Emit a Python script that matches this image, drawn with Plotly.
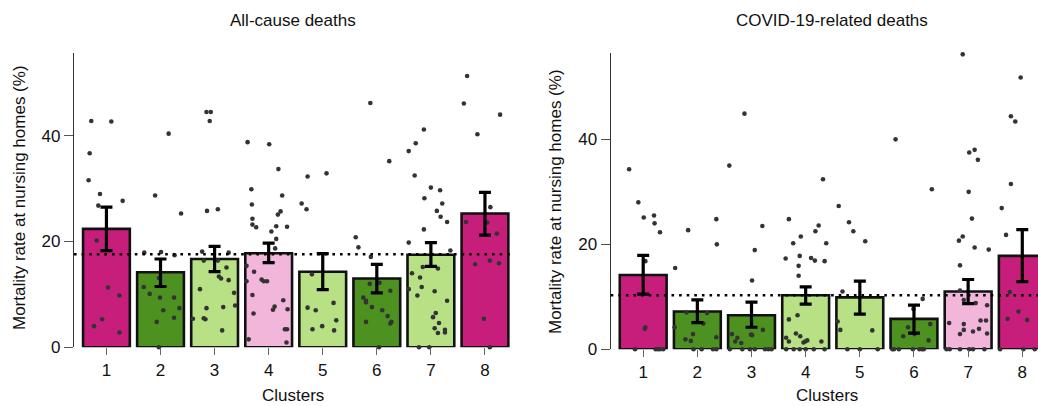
import plotly.graph_objects as go

# ---------------- data ----------------
clusters = [1, 2, 3, 4, 5, 6, 7, 8]
tick_vals_y = [0, 20, 40]

# All-cause deaths
ac_rate = [22.4, 14.2, 16.7, 17.8, 14.3, 13.0, 17.5, 25.3]
ac_err_hi = [26.5, 16.7, 19.1, 19.7, 17.7, 15.7, 19.8, 29.3]
ac_err_lo = [18.3, 11.5, 14.3, 16.0, 10.9, 10.3, 15.3, 21.2]
ac_overall = 17.6
ac_colors = ["#C71E7B", "#4D9221", "#B8E186", "#F1B6DA", "#B8E186", "#4D9221", "#B8E186", "#C71E7B"]

ac_pts_1 = [42.8, 42.7, 36.7, 31.6, 29.0, 26.8, 27.7, 20.2, 11.3, 9.8, 5.3, 4.0, 2.8]
ac_jit_1 = [-0.28, 0.09, -0.31, -0.33, -0.12, -0.15, 0.30, -0.18, 0.03, 0.24, -0.08, -0.23, 0.24]
ac_pts_2 = [40.4, 28.7, 25.3, 17.9, 18.0, 17.4, 11.4, 10.1, 13.1, 9.4, 9.4, 7.0, 7.4, 5.6, 4.8, 0.0]
ac_jit_2 = [0.15, -0.10, 0.38, -0.30, 0.01, 0.26, -0.31, -0.20, -0.03, -0.01, 0.25, 0.05, 0.35, 0.25, -0.07, -0.03]
ac_pts_3 = [44.5, 44.5, 42.8, 25.8, 26.1, 18.1, 17.9, 16.4, 16.4, 15.1, 13.4, 13.0, 12.7, 11.0, 10.3, 7.9, 7.6, 7.4, 5.4, 5.5, 5.3, 3.2]
ac_jit_3 = [-0.15, -0.07, -0.09, -0.14, 0.06, -0.23, 0.26, 0.06, -0.20, 0.22, 0.08, 0.12, 0.26, -0.27, 0.36, 0.38, 0.16, -0.15, -0.40, -0.20, -0.17, 0.14]
ac_pts_4 = [38.8, 15.4, 12.5, 1.5, 29.9, 27.0, 24.3, 23.2, 22.7, 38.4, 33.7, 28.7, 25.7, 25.1, 22.9, 22.8, 21.9, 20.5, 18.7,
            14.3, 12.8, 12.5, 12.5, 9.9, 8.9, 7.7, 7.1, 7.2, 6.4, 3.4, 3.4, 0.9]
ac_jit_4 = [-0.39, -0.41, -0.41, -0.37, -0.32, -0.31, -0.30, -0.30, -0.23, 0.01, 0.18, 0.25, 0.22, 0.17, 0.14, 0.34, 0.05, 0.14, 0.12,
            -0.27, -0.13, -0.09, -0.03, -0.30, 0.27, 0.11, 0.08, 0.35, -0.28, 0.30, 0.34, 0.33]
ac_pts_5 = [32.3, 32.9, 27.2, 26.1, 13.8, 7.5, 7.0, 8.4, 5.1, 4.0, 3.4, 3.2]
ac_jit_5 = [-0.28, 0.07, -0.39, -0.30, -0.20, -0.28, -0.13, 0.20, 0.25, -0.01, -0.19, 0.21]
ac_pts_6 = [46.2, 35.2, 20.8, 18.9, 17.1, 12.0, 12.2, 10.7, 9.4, 8.8, 8.5, 7.6, 7.0, 5.9, 4.8, 4.5, 4.8, 0.0]
ac_jit_6 = [-0.12, 0.23, -0.39, -0.34, -0.11, -0.13, 0.05, 0.25, -0.25, -0.20, -0.20, -0.09, 0.10, 0.20, 0.27, 0.25, -0.20, 0.04]
ac_pts_7 = [55.7, 41.2, 38.6, 37.1, 32.5, 30.2, 29.7, 28.2, 27.2, 25.8, 24.7, 23.7, 22.3, 19.8, 18.3, 15.2, 14.9, 14.0, 13.2,
            11.4, 11.0, 10.6, 9.8, 8.8, 6.5, 5.7, 4.6, 3.6, 3.3, 2.8, 2.7, 0.0, 0.0]
ac_jit_7 = [-0.34, -0.13, -0.28, -0.41, -0.30, 0.00, 0.17, -0.12, 0.21, 0.11, 0.18, 0.30, -0.13, -0.41, 0.36, -0.15, 0.13, -0.35, -0.20,
            -0.17, -0.41, 0.07, -0.25, 0.30, 0.09, 0.04, 0.15, 0.07, 0.26, 0.26, 0.13, -0.22, -0.03]
ac_pts_8 = [51.3, 46.1, 44.0, 40.3, 26.5, 23.7, 23.6, 21.5, 15.7, 16.4, 15.9, 5.4, 0.0]
ac_jit_8 = [-0.33, -0.39, 0.28, -0.14, 0.10, -0.35, 0.04, 0.22, -0.18, 0.09, 0.26, -0.02, 0.09]

# COVID-19-related deaths
cv_rate = [14.15, 7.2, 6.5, 10.3, 9.9, 5.8, 11.0, 17.8]
cv_err_hi = [17.9, 9.4, 9.0, 11.9, 13.0, 8.4, 13.3, 22.8]
cv_err_lo = [10.5, 5.1, 4.2, 8.6, 6.7, 3.1, 8.7, 12.9]
cv_overall = 10.3
cv_colors = ["#C71E7B", "#4D9221", "#4D9221", "#B8E186", "#B8E186", "#4D9221", "#F1B6DA", "#C71E7B"]

cv_pts_1 = [34.3, 28.0, 25.1, 25.5, 24.0, 22.3, 16.8, 4.2, 3.9, 0.0, 0.0, 0.0, 0.0, 0.0]
cv_jit_1 = [-0.26, -0.09, 0.01, 0.20, 0.21, 0.31, 0.04, 0.04, 0.03, -0.15, 0.23, 0.27, 0.31, 0.37]
cv_pts_2 = [15.5, 22.7, 24.8, 20.0, 7.0, 6.9, 4.9, 4.2, 2.9, 1.9, 1.6, 2.3, 0.0, 0.0, 0.0, 0.0]
cv_jit_2 = [-0.41, -0.17, 0.35, 0.36, -0.20, 0.18, 0.11, -0.42, -0.08, -0.22, -0.12, 0.35, -0.07, 0.08, 0.29, 0.35]
cv_pts_3 = [44.9, 35.0, 23.5, 18.9, 13.1, 2.9, 2.2, 1.5, 1.2, 2.8, 2.7, 3.7, 0.0, 0.0, 0.0, 0.0, 0.0, 0.0, 0.0]
cv_jit_3 = [-0.13, -0.41, 0.20, 0.06, 0.01, -0.36, -0.26, -0.30, -0.19, -0.01, 0.01, 0.21, -0.40, -0.17, -0.03, 0.06, 0.25, 0.31, 0.37]
cv_pts_4 = [24.8, 21.5, 20.2, 17.3, 17.8, 15.9, 14.0, 17.4, 16.9, 22.5, 23.6, 32.4, 20.2, 16.8, 5.7, 6.5, 3.0, 2.5, 2.2, 1.5,
            1.3, 1.5, 1.7, 1.5, 0.0, 0.0, 0.0, 0.0, 0.0, 0.0]
cv_jit_4 = [-0.31, -0.09, -0.23, -0.37, -0.11, -0.13, -0.13, 0.10, 0.17, 0.18, 0.24, 0.32, 0.38, 0.35, -0.31, -0.15, -0.18, -0.10, -0.36, -0.31,
            -0.04, -0.01, 0.03, 0.29, -0.36, -0.22, -0.11, 0.00, 0.15, 0.35]
cv_pts_5 = [27.3, 24.2, 22.5, 20.6, 11.0, 5.3, 3.7, 3.6, 0.0, 0.0, 0.0]
cv_jit_5 = [-0.39, -0.20, -0.12, 0.10, -0.32, -0.41, -0.36, 0.23, -0.23, 0.00, 0.33]
cv_pts_6 = [40.0, 30.5, 9.6, 7.7, 4.2, 2.5, 2.9, 4.8, 1.7, 0.0, 0.0, 0.0, 0.0, 0.0, 0.0, 0.0]
cv_jit_6 = [-0.34, 0.33, 0.16, -0.01, -0.11, -0.20, 0.01, 0.30, 0.27, -0.40, -0.37, -0.28, -0.02, 0.10, 0.15, 0.18]
cv_pts_7 = [56.2, 37.5, 38.0, 36.1, 30.0, 24.9, 21.5, 20.7, 19.4, 19.0, 16.0, 11.2, 9.4, 8.8, 8.4, 5.0, 4.8, 5.5, 5.5, 3.9,
            3.4, 2.9, 3.7, 3.0, 0.0, 0.0, 0.0, 0.0, 0.0, 0.0]
cv_jit_7 = [-0.10, 0.02, 0.12, 0.18, 0.01, 0.07, -0.10, -0.17, 0.12, 0.38, -0.15, -0.15, -0.08, 0.14, 0.35, -0.35, -0.08, 0.23, 0.33, 0.20,
            0.09, -0.15, -0.08, 0.35, -0.40, -0.34, -0.15, 0.02, 0.09, 0.30]
cv_pts_8 = [51.8, 44.4, 43.4, 31.5, 26.9, 21.8, 10.9, 5.8, 7.2, 5.6, 0.0, 0.0, 0.0]
cv_jit_8 = [-0.03, -0.21, -0.13, -0.21, -0.38, -0.30, -0.23, -0.27, -0.07, 0.09, -0.41, 0.02, 0.23]

ac_points = [ac_pts_1, ac_pts_2, ac_pts_3, ac_pts_4, ac_pts_5, ac_pts_6, ac_pts_7, ac_pts_8]
ac_jitter = [ac_jit_1, ac_jit_2, ac_jit_3, ac_jit_4, ac_jit_5, ac_jit_6, ac_jit_7, ac_jit_8]
cv_points = [cv_pts_1, cv_pts_2, cv_pts_3, cv_pts_4, cv_pts_5, cv_pts_6, cv_pts_7, cv_pts_8]
cv_jitter = [cv_jit_1, cv_jit_2, cv_jit_3, cv_jit_4, cv_jit_5, cv_jit_6, cv_jit_7, cv_jit_8]

titles = ["All-cause deaths", "COVID-19-related deaths"]
x_title = "Clusters"
y_title = "Mortality rate at nursing homes (%)"

# ---------------- figure ----------------
W, H = 1038, 406
FONT = "Liberation Sans, Arial, Helvetica, sans-serif"
fig = go.Figure()


def add_panel(fig, xa, ya, rate, hi, lo, colors, points, jitter, overall):
    fig.add_trace(go.Bar(
        x=clusters, y=rate, width=0.865, xaxis=xa, yaxis=ya,
        marker=dict(color=colors, line=dict(color="#111111", width=2.6)),
        showlegend=False, hoverinfo="skip"))
    px, py = [], []
    for c, vals, jit in zip(clusters, points, jitter):
        for v, j in zip(vals, jit):
            px.append(c + j)
            py.append(v)
    fig.add_trace(go.Scatter(
        x=px, y=py, mode="markers", xaxis=xa, yaxis=ya, cliponaxis=False,
        marker=dict(color="#333333", size=4.6, line=dict(width=0)),
        showlegend=False, hoverinfo="skip"))
    fig.add_trace(go.Scatter(
        x=clusters, y=rate, mode="markers", xaxis=xa, yaxis=ya,
        marker=dict(size=1, opacity=0),
        error_y=dict(type="data", symmetric=False,
                     array=[h - r for h, r in zip(hi, rate)],
                     arrayminus=[r - l for r, l in zip(rate, lo)],
                     color="#000000", thickness=3.2, width=6),
        showlegend=False, hoverinfo="skip"))
    fig.add_shape(type="line", xref=f"{xa} domain", yref=ya,
                  x0=0, x1=1, y0=overall, y1=overall,
                  line=dict(color="#000000", width=2.6, dash="2.6px,5px"),
                  layer="above")


add_panel(fig, "x", "y", ac_rate, ac_err_hi, ac_err_lo, ac_colors, ac_points, ac_jitter, ac_overall)
add_panel(fig, "x2", "y2", cv_rate, cv_err_hi, cv_err_lo, cv_colors, cv_points, cv_jitter, cv_overall)

xcommon = dict(tickmode="array", tickvals=clusters, ticks="outside", ticklen=7,
               tickwidth=1.3, tickcolor="#666666", showline=False, showgrid=False,
               zeroline=False, tickfont=dict(size=17, color="#111111", family=FONT),
               automargin=False)
ycommon = dict(tickmode="array", tickvals=tick_vals_y, ticks="outside", ticklen=9,
               tickwidth=1.3, tickcolor="#555555", showline=True, linecolor="#333333",
               linewidth=1.3, showgrid=False, zeroline=False,
               tickfont=dict(size=17, color="#111111", family=FONT), automargin=False)

fig.update_layout(
    width=W, height=H, margin=dict(l=0, r=0, t=0, b=0),
    paper_bgcolor="white", plot_bgcolor="white",
    font=dict(family=FONT, size=17, color="#111111"),
    xaxis=dict(domain=[74 / W, 512 / W], range=[0.4, 8.5], anchor="y", **xcommon),
    yaxis=dict(domain=[1 - 347.3 / H, 1 - 53.3 / H], range=[0, 55.6], anchor="x", **ycommon),
    xaxis2=dict(domain=[610.7 / W, 1.0], range=[0.4, 8.29], anchor="y2", **xcommon),
    yaxis2=dict(domain=[1 - 349.3 / H, 1 - 53.3 / H], range=[0, 56.4], anchor="x2", **ycommon),
    showlegend=False,
)

ann = [
    dict(text=titles[0], x=293 / W, y=1 - 21 / H),
    dict(text=titles[1], x=832 / W, y=1 - 21 / H),
    dict(text=x_title, x=293 / W, y=1 - 395 / H),
    dict(text=x_title, x=827 / W, y=1 - 395 / H),
    dict(text=y_title, x=20 / W, y=1 - 198 / H, textangle=-90),
    dict(text=y_title, x=556 / W, y=1 - 202 / H, textangle=-90),
]
for a in ann:
    fig.add_annotation(xref="paper", yref="paper", xanchor="center", yanchor="middle",
                       showarrow=False, font=dict(size=17, family=FONT, color="#111111"), **a)

fig.write_html("out.html")
